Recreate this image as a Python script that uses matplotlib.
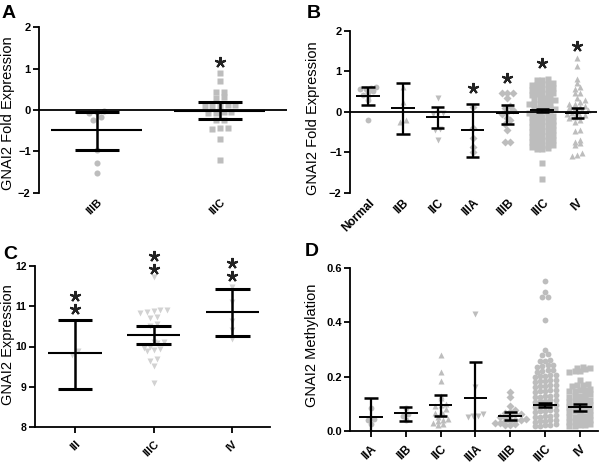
import matplotlib
matplotlib.use('Agg')
import matplotlib.pyplot as plt
import numpy as np

plt.rcParams['font.family'] = ['Liberation Sans', 'DejaVu Sans']

# ---------------- data ----------------
# Panel A
a_cats = ['IIIB', 'IIIC']
a_IIIB = [-0.02, -0.05, -0.08, -0.18, -0.24, -0.97, -1.29, -1.52]
a_IIIC = [0.89, 0.69, 0.44, 0.43, 0.31, 0.30, 0.13, 0.12, 0.10, 0.09, 0.09,
          -0.05, -0.06, -0.07, -0.08, -0.23, -0.25, -0.43, -0.46, -0.44, -0.69, -1.21]
a_mean = [-0.49, -0.02]
a_hi = [-0.04, 0.19]
a_lo = [-0.97, -0.22]
a_star = [None, 1.17]

# Panel B
b_cats = ['Normal', 'IIB', 'IIC', 'IIIA', 'IIIB', 'IIIC', 'IV']
b_Normal = [0.60, 0.58, 0.57, 0.55, 0.52, 0.48, 0.42, 0.38, 0.30, -0.20]
b_IIB = [0.60, 0.25, -0.20, -0.25]
b_IIC = [0.33, -0.02, -0.04, -0.06, -0.42, -0.44, -0.70]
b_IIIA = [0.12, -0.40, -0.66, -0.86, -1.00]
b_IIIB = [0.47, 0.47, 0.45, 0.33, 0.15, 0.10, 0.05, 0.0, -0.05, -0.16, -0.20,
          -0.30, -0.45, -0.74, -0.74]
b_IIIC = [0.80, 0.79, 0.78,
          0.70, 0.69, 0.68, 0.67, 0.66,
          0.58, 0.57, 0.56, 0.55, 0.54,
          0.46, 0.45, 0.44, 0.43, 0.42,
          0.34, 0.33, 0.32, 0.31, 0.30,
          0.22, 0.21, 0.20, 0.19, 0.18,
          0.10, 0.09, 0.08, 0.07, 0.06,
          0.02, 0.01, 0.00, -0.01, -0.02,
          -0.10, -0.11, -0.12, -0.13, -0.14,
          -0.22, -0.23, -0.24, -0.25, -0.26,
          -0.34, -0.35, -0.36, -0.37, -0.38,
          -0.46, -0.47, -0.48, -0.49, -0.50,
          -0.58, -0.59, -0.60, -0.61, -0.62,
          -0.70, -0.71, -0.72, -0.73, -0.74,
          -0.82, -0.83, -0.84, -0.85, -0.86,
          -0.90, -0.91, -0.92,
          -1.27, -1.65]
b_IV = [1.32, 1.13, 0.80, 0.70, 0.60, 0.55, 0.45, 0.45, 0.35, 0.30, 0.25, 0.20,
        0.18, 0.15, 0.12, 0.10, 0.08, 0.05, 0.03, 0.0, -0.02, -0.05, -0.08, -0.10,
        -0.12, -0.15, -0.20, -0.25, -0.45, -0.48, -0.70, -0.75, -0.78, -0.82,
        -1.03, -1.07, -1.09]
b_mean = [0.39, 0.08, -0.14, -0.45, -0.03, 0.03, -0.02]
b_hi = [0.60, 0.70, 0.12, 0.20, 0.16, 0.06, 0.10]
b_lo = [0.16, -0.55, -0.41, -1.13, -0.30, 0.00, -0.15]
b_star = [None, None, None, 0.58, 0.83, 1.20, 1.61]

# Panel C
c_cats = ['III', 'IIIC', 'IV']
c_III = [9.88, 9.78]
c_IIIC = [11.73, 10.92, 10.90, 10.88, 10.86, 10.84, 10.73, 10.70, 10.56, 10.52,
          10.12, 10.10, 10.08, 9.98, 9.96, 9.94, 9.92, 9.90, 9.68, 9.63, 9.52, 9.10]
c_IV = [11.48, 11.10, 10.63, 10.40, 10.19]
c_mean = [9.83, 10.29, 10.85]
c_hi = [10.66, 10.50, 11.43]
c_lo = [8.94, 10.06, 10.25]
c_star = [[11.27, 10.93], [12.26, 11.93], [12.07, 11.77]]

# Panel D
d_cats = ['IIA', 'IIB', 'IIC', 'IIIA', 'IIIB', 'IIIC', 'IV']
d_IIA = [0.083, 0.045, 0.040, 0.025]
d_IIB = [0.085, 0.060, 0.055, 0.040]
d_IIC = [0.28, 0.218, 0.185, 0.13, 0.12, 0.10, 0.095, 0.09, 0.08, 0.07, 0.065,
         0.06, 0.05, 0.045, 0.04, 0.035, 0.03, 0.025, 0.02]
d_IIIA = [0.43, 0.16, 0.06, 0.055, 0.055, 0.05]
d_IIIB = [0.144, 0.123, 0.09, 0.075, 0.07, 0.065, 0.06, 0.06, 0.055, 0.05, 0.05,
          0.045, 0.04, 0.04, 0.035, 0.035, 0.03, 0.03, 0.025, 0.02, 0.02]
d_IIIC = [0.553, 0.514, 0.495, 0.493, 0.41,
          0.298, 0.282, 0.278,
          0.262, 0.259, 0.257,
          0.244, 0.241, 0.239, 0.236,
          0.226, 0.223, 0.221, 0.218,
          0.207, 0.205, 0.203, 0.201, 0.199,
          0.188, 0.186, 0.184, 0.182, 0.180,
          0.170, 0.168, 0.166, 0.164, 0.162,
          0.151, 0.149, 0.147, 0.145, 0.143,
          0.132, 0.130, 0.128, 0.126, 0.124,
          0.114, 0.112, 0.110, 0.108, 0.106,
          0.095, 0.093, 0.091, 0.089, 0.087,
          0.077, 0.075, 0.073, 0.071, 0.069,
          0.058, 0.056, 0.054, 0.052, 0.050,
          0.040, 0.038, 0.036, 0.034, 0.032,
          0.024, 0.022, 0.020, 0.018, 0.016]
d_IV = [0.236, 0.233, 0.230, 0.227,
        0.221, 0.219, 0.217,
        0.188, 0.172, 0.170, 0.168, 0.166,
        0.153, 0.151, 0.149, 0.147, 0.145,
        0.134, 0.132, 0.130, 0.128, 0.126,
        0.115, 0.113, 0.111, 0.109, 0.107,
        0.096, 0.094, 0.092, 0.090, 0.088,
        0.077, 0.075, 0.073, 0.071, 0.069,
        0.058, 0.056, 0.054, 0.052, 0.050,
        0.040, 0.038, 0.036, 0.034, 0.032,
        0.024, 0.022, 0.020, 0.018, 0.016]
d_mean = [0.052, 0.064, 0.095, 0.121, 0.054, 0.095, 0.089]
d_hi = [0.120, 0.089, 0.132, 0.253, 0.070, 0.102, 0.100]
d_lo = [-0.02, 0.036, 0.055, -0.02, 0.040, 0.088, 0.073]

# ---------------- helpers ----------------
W, H = 600, 468
fig = plt.figure(figsize=(6, 4.68), dpi=100)
GRAY = '#bdbdbd'


def ax_at(x0, y0, x1, y1):
    return fig.add_axes([x0 / W, 1 - y1 / H, (x1 - x0) / W, (y1 - y0) / H])


def swarm(vals, bin_h, dx):
    vals = np.asarray(vals, float)
    bins = np.round(vals / bin_h).astype(int)
    off = np.zeros_like(vals)
    for b in np.unique(bins):
        idx = np.where(bins == b)[0]
        idx = idx[np.argsort(vals[idx])]
        n = len(idx)
        off[idx] = (np.arange(n) - (n - 1) / 2) * dx
    return off


def panel(ax, groups, markers, means, lo, hi, bin_h, dx, ms, color=GRAY,
          mhalf=0.34, chalf=0.19, clw=2.0, mlw=1.5, vlw=1.8, clip=False):
    for i, (vals, mk) in enumerate(zip(groups, markers)):
        off = swarm(vals, bin_h, dx)
        ax.plot(i + off, vals, ls='none', marker=mk, ms=ms, mfc=color,
                mec='none', zorder=2, clip_on=False)
    for i in range(len(means)):
        kw = dict(color='black', zorder=4, solid_capstyle='butt', clip_on=clip)
        ax.plot([i, i], [lo[i], hi[i]], lw=vlw, **kw)
        ax.plot([i - chalf, i + chalf], [hi[i], hi[i]], lw=clw, **kw)
        ax.plot([i - chalf, i + chalf], [lo[i], lo[i]], lw=clw, **kw)
        ax.plot([i - mhalf, i + mhalf], [means[i], means[i]], lw=mlw, **kw)


def style(ax, cats, bottom_spine, fs_x=8, fs_y=8):
    for s in ['top', 'right']:
        ax.spines[s].set_visible(False)
    ax.spines['left'].set_linewidth(1.3)
    ax.spines['bottom'].set_linewidth(1.3)
    ax.spines['bottom'].set_visible(bottom_spine)
    ax.set_xticks(range(len(cats)))
    ax.set_xticklabels(cats, rotation=45, ha='right', rotation_mode='anchor',
                       fontweight='bold', fontsize=fs_x)
    ax.tick_params(axis='y', direction='out', length=4, width=1.3,
                   labelsize=fs_y, pad=2)
    ax.tick_params(axis='x', direction='out', length=4 if bottom_spine else 0,
                   width=1.3, pad=5 if bottom_spine else 3)
    for lab in ax.get_yticklabels():
        lab.set_fontweight('bold')


def star(ax, x, y):
    ax.plot([x], [y], ls='none', marker=(5, 2, 0), ms=8, mew=1.5,
            color='#222222', zorder=5, clip_on=False)


# ---------------- Panel A ----------------
axA = ax_at(39, 27.3, 287, 192.7)
axA.set_xlim(-0.47, 1.545)
axA.set_ylim(-2, 2)
axA.set_yticks([-2, -1, 0, 1, 2])
axA.axhline(0, color='black', lw=1.3, zorder=3)
panel(axA, [a_IIIB, a_IIIC], ['o', 's'], a_mean, a_lo, a_hi,
      bin_h=0.17, dx=0.062, ms=4.4, mhalf=0.37, chalf=0.18, clw=2.2)
style(axA, a_cats, False)
for i, s in enumerate(a_star):
    if s is not None:
        star(axA, i, s)

# ---------------- Panel B ----------------
axB = ax_at(350, 30.7, 597, 192.7)
axB.set_xlim(-0.52, 6.57)
axB.set_ylim(-2, 2)
axB.set_yticks([-2, -1, 0, 1, 2])
axB.axhline(0, color='black', lw=1.3, zorder=3)
panel(axB, [b_Normal, b_IIB, b_IIC, b_IIIA, b_IIIB, b_IIIC, b_IV],
      ['o', '^', 'v', 'D', 'D', 's', '^'], b_mean, b_lo, b_hi,
      bin_h=0.12, dx=0.15, ms=4.2, mhalf=0.34, chalf=0.19, clw=1.8, mlw=1.4,
      vlw=1.6)
style(axB, b_cats, False, fs_x=8.5)
for i, s in enumerate(b_star):
    if s is not None:
        star(axB, i, s)

# ---------------- Panel C ----------------
axC = ax_at(35, 266.3, 270, 426.7)
axC.set_xlim(-0.51, 2.48)
axC.set_ylim(8, 12)
axC.set_yticks([8, 9, 10, 11, 12])
panel(axC, [c_III, c_IIIC, c_IV], ['v', 'v', 'v'], c_mean, c_lo, c_hi,
      bin_h=0.17, dx=0.085, ms=4.2, color='#d2d2d2', mhalf=0.34, chalf=0.22,
      clw=2.2)
style(axC, c_cats, True, fs_y=7.5)
for i, pair in enumerate(c_star):
    for s in pair:
        star(axC, i, s)

# ---------------- Panel D ----------------
axD = ax_at(350, 268.3, 598, 430.7)
axD.set_xlim(-0.6, 6.52)
axD.set_ylim(0, 0.6)
axD.set_yticks([0.0, 0.2, 0.4, 0.6])
axD.set_yticklabels(['0.0', '0.2', '0.4', '0.6'])
panel(axD, [d_IIA, d_IIB, d_IIC, d_IIIA, d_IIIB, d_IIIC, d_IV],
      ['o', 'o', '^', 'v', 'D', 'o', 's'], d_mean, d_lo, d_hi,
      bin_h=0.0185, dx=0.15, ms=4.2, mhalf=0.34, chalf=0.19, clw=1.8, mlw=1.4,
      vlw=1.6, clip=True)
style(axD, d_cats, True, fs_x=8.5)

# ---------------- labels ----------------
fig.text(8 / W, 1 - 113 / H, 'GNAI2 Fold Expression', rotation=90,
         ha='center', va='center', fontsize=10.5)
fig.text(313 / W, 1 - 118 / H, 'GNAI2 Fold Expression', rotation=90,
         ha='center', va='center', fontsize=10.5)
fig.text(8 / W, 1 - 345 / H, 'GNAI2 Expression', rotation=90,
         ha='center', va='center', fontsize=10.5)
fig.text(312 / W, 1 - 345 / H, 'GNAI2 Methylation', rotation=90,
         ha='center', va='center', fontsize=10.5)

for lab, x, y in [('A', 2, 18), ('B', 307, 18), ('C', 3, 259), ('D', 305, 256)]:
    fig.text(x / W, 1 - y / H, lab, fontsize=14, fontweight='bold',
             ha='left', va='baseline')

fig.savefig('out.png', dpi=100)
